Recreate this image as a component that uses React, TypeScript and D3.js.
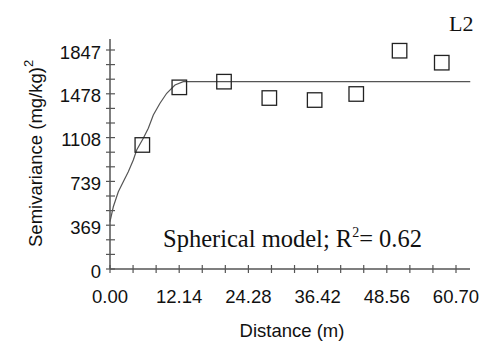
import React from 'react';
import * as d3 from 'd3';

// observed semivariance (lag distance in m, semivariance in (mg/kg)^2)
const lagDistance = [5.67, 12.16, 20.0, 27.95, 35.9, 43.2, 50.8, 58.2];
const semivariance = [1046, 1532, 1580, 1442, 1425, 1476, 1841, 1740];

// fitted spherical model
const modelDistance = [0, 0.58, 1.46, 2.33, 3.21, 4.09, 4.68, 5.84, 6.72, 7.6, 8.77, 9.95, 11.4, 12.86, 63.2];
const modelValue = [399, 525, 652, 736, 821, 919, 1004, 1102, 1187, 1299, 1398, 1482, 1552, 1580, 1580];

const xTickLabels = ['0.00', '12.14', '24.28', '36.42', '48.56', '60.70'];
const yTickLabels = ['0', '369', '739', '1108', '1478', '1847'];

const xMax = 60.7;
const yMax = 1847;

const sans = '"Liberation Sans", Arial, sans-serif';
const serif = '"Liberation Serif", "Times New Roman", serif';
const axisColor = '#555';

const App = () => {
  const width = 483;
  const height = 344;

  const x = d3.scaleLinear().domain([0, xMax]).range([110, 456]);
  const y = d3.scaleLinear().domain([0, yMax]).range([269, 50]);

  // 15 intervals on each axis, label on every third tick
  const xTicks = d3.range(16).map((i) => (i * xMax) / 15);
  const yTicks = d3.range(16).map((i) => (i * yMax) / 15);

  const line = d3
    .line<number>()
    .x((d, i) => x(modelDistance[i]))
    .y((d) => y(d));

  const box = 14.5;

  return (
    <svg
      width={width}
      height={height}
      style={{ position: 'absolute', left: 0, top: 0, background: '#fff' }}
    >
      {/* y axis */}
      <line x1={x(0)} x2={x(0)} y1={y(0)} y2={39} stroke={axisColor} strokeWidth={1.5} />
      {yTicks.map((t, i) => (
        <line key={'yt' + i} x1={x(0) - 4} x2={x(0) + 5} y1={y(t)} y2={y(t)} stroke={axisColor} strokeWidth={1.2} />
      ))}
      {yTickLabels.map((lab, i) => (
        <text
          key={'yl' + i}
          x={101}
          y={y(yTicks[i * 3]) + 8.5}
          textAnchor="end"
          fontFamily={sans}
          fontSize={18.5}
          fill="#111"
        >
          {lab}
        </text>
      ))}

      {/* x axis */}
      <line x1={x(0)} x2={470} y1={y(0)} y2={y(0)} stroke={axisColor} strokeWidth={1.5} />
      {xTicks.map((t, i) => (
        <line key={'xt' + i} x1={x(t)} x2={x(t)} y1={y(0) - 4} y2={y(0) + 4} stroke={axisColor} strokeWidth={1.2} />
      ))}
      {xTickLabels.map((lab, i) => (
        <text
          key={'xl' + i}
          x={x(xTicks[i * 3])}
          y={303}
          textAnchor="middle"
          fontFamily={sans}
          fontSize={18.5}
          fill="#111"
        >
          {lab}
        </text>
      ))}

      {/* axis titles */}
      <text x={292} y={337} textAnchor="middle" fontFamily={sans} fontSize={18.5} fill="#111">
        Distance (m)
      </text>
      <text transform="translate(42,247) rotate(-90)" fontFamily={sans} fontSize={18.5} fill="#111">
        Semivariance (mg/kg)
        <tspan dy={-9} fontSize={13}>2</tspan>
      </text>

      {/* model curve */}
      <path d={line(modelValue) || ''} fill="none" stroke={axisColor} strokeWidth={1.2} />

      {/* observed points */}
      {semivariance.map((v, i) => (
        <rect
          key={'p' + i}
          x={x(lagDistance[i]) - box / 2}
          y={y(v) - box / 2}
          width={box}
          height={box}
          fill="none"
          stroke="#222"
          strokeWidth={1.3}
        />
      ))}

      {/* annotations */}
      <text x={163} y={247} fontFamily={serif} fontSize={24.5} fill="#111">
        Spherical model; R
        <tspan dy={-10} fontSize={14}>2</tspan>
        <tspan dy={10}>= 0.62</tspan>
      </text>
      <text x={449} y={31} fontFamily={serif} fontSize={22} fill="#111">
        L2
      </text>
    </svg>
  );
};

export default App;
